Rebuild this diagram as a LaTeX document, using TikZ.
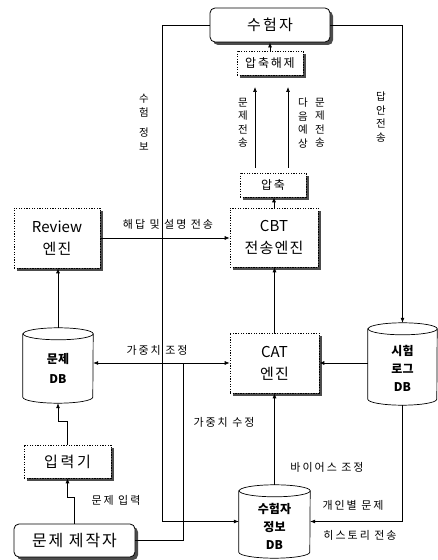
\documentclass[tikz,border=0pt]{standalone}
\usepackage{fontspec}
\setmainfont{Noto Sans CJK KR}
\usetikzlibrary{arrows.meta,shadows,calc}
\newcommand\latn[1]{{\addfontfeature{LetterSpace=0}#1}}
\begin{document}
\begin{tikzpicture}[x=1pt,y=1pt,
  shd/.style={drop shadow={shadow xshift=3pt,shadow yshift=-3pt,fill=black!70,opacity=1}},
  dbox/.style={draw,dash pattern=on 1.3pt off 1.3pt,line width=0.6pt,fill=white,inner sep=0pt,shd},
  rbox/.style={draw,line width=0.8pt,rounded corners=5pt,fill=white,inner sep=0pt,shd},
  bigf/.style={font=\fontsize{15}{22}\selectfont\addfontfeature{LetterSpace=8}},
  midf/.style={font=\fontsize{12}{14}\selectfont\addfontfeature{LetterSpace=15}},
  lbl/.style={font=\fontsize{11}{12}\selectfont\addfontfeature{LetterSpace=18},inner sep=0pt},
  vlbl/.style={font=\fontsize{10.5}{13.5}\selectfont,align=center,inner sep=0pt},
  dbt/.style={font=\fontsize{12}{18}\selectfont\bfseries,align=center,inner sep=0pt},
  ln/.style={line width=0.7pt},
  arr/.style={ln,-{Latex[length=5pt,width=4pt]}},
  arrb/.style={ln,{Latex[length=5pt,width=4pt]}-{Latex[length=5pt,width=4pt]}},
  cyl/.style={ln,fill=white}
]
\useasboundingbox (0,0) rectangle (438,560);

% boxes
\node[rbox,font=\fontsize{15}{18}\selectfont\addfontfeature{LetterSpace=15},minimum width=120pt,minimum height=34pt] (suhum) at (270,535) {수험자};
\node[dbox,midf,minimum width=66pt,minimum height=24pt] (unzip) at (270,497) {압축해제};
\node[dbox,midf,minimum width=66pt,minimum height=24pt] (zip) at (273,375) {압축};
\node[dbox,bigf,align=center,minimum width=88pt,minimum height=59pt] (cbt) at (274,322.5) {\latn{CBT}\\전송엔진};
\node[dbox,bigf,align=center,minimum width=86pt,minimum height=60pt] (review) at (57,322) {\latn{Review}\\엔진};
\node[dbox,bigf,align=center,minimum width=89pt,minimum height=60pt] (cat) at (274.5,197) {\latn{CAT}\\엔진};
\node[dbox,font=\fontsize{15}{18}\selectfont\addfontfeature{LetterSpace=18},minimum width=87pt,minimum height=33pt] (ipr) at (67.5,98.5) {입력기};
\node[rbox,font=\fontsize{16}{18}\selectfont\addfontfeature{LetterSpace=12},minimum width=121pt,minimum height=33pt] (maker) at (74.5,19.5) {문제 제작자};

% cylinder frames
\node[minimum width=70pt,minimum height=75pt,inner sep=0pt] (pdb) at (58,194.5) {};
\node[minimum width=69pt,minimum height=82pt,inner sep=0pt] (ldb) at (402.5,196) {};
\node[minimum width=71pt,minimum height=73pt,inner sep=0pt] (sdb) at (274.5,38.5) {};

\draw[cyl] ($(pdb.north west)+(0,-6)$) -- ($(pdb.south west)+(0,6)$) arc[start angle=180,end angle=360,x radius=35,y radius=6] -- ($(pdb.north east)+(0,-6)$) arc[start angle=0,end angle=180,x radius=35,y radius=6] -- cycle;
\draw[ln] ($(pdb.north east)+(0,-6)$) arc[start angle=360,end angle=180,x radius=35,y radius=6];

\draw[cyl] ($(ldb.north west)+(0,-6)$) -- ($(ldb.south west)+(0,6)$) arc[start angle=180,end angle=360,x radius=34.5,y radius=6] -- ($(ldb.north east)+(0,-6)$) arc[start angle=0,end angle=180,x radius=34.5,y radius=6] -- cycle;
\draw[ln] ($(ldb.north east)+(0,-6)$) arc[start angle=360,end angle=180,x radius=34.5,y radius=6];

\draw[cyl] ($(sdb.north west)+(0,-6)$) -- ($(sdb.south west)+(0,6)$) arc[start angle=180,end angle=360,x radius=35.5,y radius=6] -- ($(sdb.north east)+(0,-6)$) arc[start angle=0,end angle=180,x radius=35.5,y radius=6] -- cycle;
\draw[ln] ($(sdb.north east)+(0,-6)$) arc[start angle=360,end angle=180,x radius=35.5,y radius=6];

\node[dbt,font=\fontsize{12}{20}\selectfont\bfseries] (pdbt) at (58,192) {문제\\DB};
\node[dbt] (ldbt) at (402.5,192) {시험\\로그\\DB};
\node[dbt] (sdbt) at (274.5,34) {수험자\\정보\\DB};

% coordinates
\coordinate (a1s) at (255,392); \coordinate (a1e) at (255,473);
\coordinate (a2s) at (288,392); \coordinate (a2e) at (288,473);
\coordinate (c1) at (162,535);
\coordinate (j) at (183,197);

% connectors
\draw[arr] (unzip.north) -- (suhum.south);
\draw[arr] (a1s) -- (a1e);
\draw[arr] (a2s) -- (a2e);
\draw[arr] (cbt.north) -- (cbt.north |- zip.south);
\draw[arr] (cat.north) -- (cat.north |- cbt.south);
\draw[arr] (pdb.north) -- (pdb.north |- review.south);
\draw[arr] (review.east) -- (review.east -| cbt.west);
\draw[arrb] (pdb.east |- cat.west) -- (cat.west);
\draw[arr] (ldb.west |- cat.east) -- (cat.east);
\draw[arr] (sdb.north) -- (sdb.north |- cat.south);
\draw[arr] (ldb.south) |- (sdb.east);
\draw[arr] (suhum.east) -| (ldb.north);
\draw[arr] (suhum.west) -- (c1) |- (sdb.west);
\draw[ln] (maker.east) -| (j);
\draw[arr] (ipr.north) -- ++(0,23) -| (pdb.south);
\draw[arr] (maker.north) -- ++(0,26) -| (ipr.south);

% labels
\node[lbl] (l1) at (168,336) {해답 및 설명 전송};
\node[lbl] (l2) at (157,210) {가중치 조정};
\node[lbl] (l3) at (224,138) {가중치 수정};
\node[lbl] (l4) at (327,93) {바이어스 조정};
\node[lbl] (l5) at (353,55) {개인별 문제};
\node[lbl] (l6) at (360,25) {히스토리 전송};
\node[lbl] (l7) at (116,60) {문제 입력};

\node[vlbl] (v1) at (144,437.5) {수\\험\\[7pt]정\\보};
\node[vlbl] (v2) at (243,437) {문\\제\\전\\송};
\node[vlbl] (v3) at (303,437) {다\\음\\예\\상};
\node[vlbl] (v4) at (320,437) {문\\제\\전\\송};
\node[vlbl] (v5) at (381,443) {답\\안\\전\\송};
\end{tikzpicture}
\end{document}
